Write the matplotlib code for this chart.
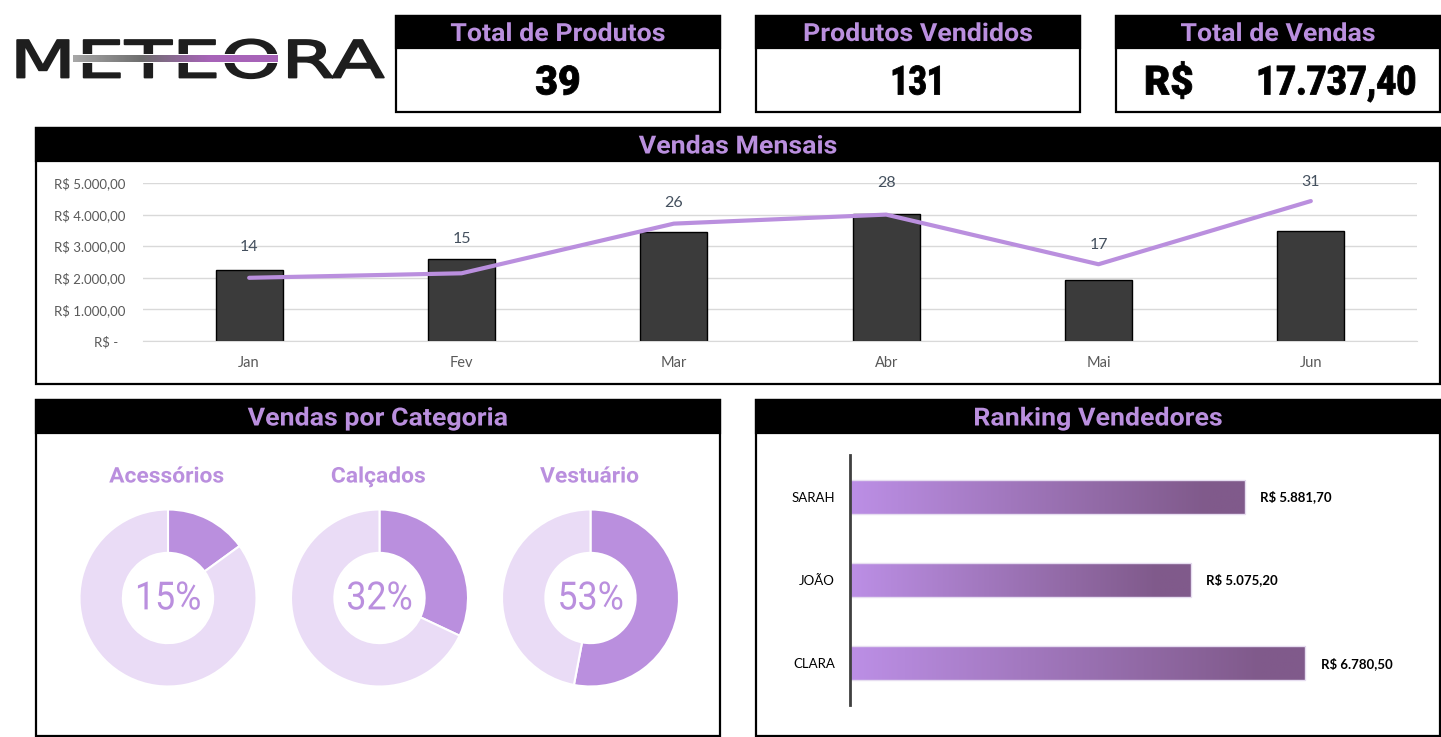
import numpy as np
import matplotlib
matplotlib.use("Agg")
import matplotlib.pyplot as plt
from matplotlib.colors import LinearSegmentedColormap
from matplotlib.patches import Rectangle
from matplotlib.patheffects import AbstractPathEffect
from matplotlib.transforms import Affine2D

plt.rcParams["font.family"] = ["Lato", "DejaVu Sans"]

# dados
kpi_titulos = ["Total de Produtos", "Produtos Vendidos", "Total de Vendas"]
meses = ["Jan", "Fev", "Mar", "Abr", "Mai", "Jun"]
vendas_mes = [2250, 2600, 3440, 4030, 1930, 3480]
qtd_mes = [14, 15, 26, 28, 17, 31]
y_ticks = [0, 1000, 2000, 3000, 4000, 5000]
y_labels = ["R$ -  ", "R$ 1.000,00", "R$ 2.000,00", "R$ 3.000,00", "R$ 4.000,00", "R$ 5.000,00"]
categorias = ["Acessórios", "Calçados", "Vestuário"]
cat_pct = [15, 32, 53]
vendedores = ["SARAH", "JOÃO", "CLARA"]
vendedor_total = [5881.70, 5075.20, 6780.50]
vendedor_labels = ["R$ 5.881,70", "R$ 5.075,20", "R$ 6.780,50"]

ROXO = "#BA8FDE"
ROXO_CLARO = "#EADCF6"
W, H = 1441, 737
TITLE_FONT = "Roboto"


class StretchX(AbstractPathEffect):
    """alarga/estreita o texto na horizontal, em torno do centro dele; stroke engrossa o traço"""
    def __init__(self, sx, stroke=0):
        super().__init__()
        self.sx = sx
        self.stroke = stroke

    def draw_path(self, renderer, gc, tpath, affine, rgbFace=None):
        ext = tpath.get_extents()
        cx = (ext.x0 + ext.x1) / 2
        t = Affine2D().translate(-cx, 0).scale(self.sx, 1).translate(cx, 0)
        gc0 = renderer.new_gc()
        gc0.copy_properties(gc)
        if self.stroke:
            gc0.set_linewidth(self.stroke)
            gc0.set_foreground(rgbFace)
        renderer.draw_path(gc0, tpath.transformed(t), affine, rgbFace)
        gc0.restore()


def px_axes(x0, y0, x1, y1, **kw):
    return fig.add_axes([x0 / W, 1 - y1 / H, (x1 - x0) / W, (y1 - y0) / H], **kw)


def painel(x0, y0, x1, y1, y_head, titulo):
    bg.add_patch(Rectangle((x0, y0), x1 - x0, y1 - y0, fc="white", ec="black", lw=1.6))
    bg.add_patch(Rectangle((x0, y0), x1 - x0, y_head - y0, fc="black", ec="black", lw=1.6))
    bg.text((x0 + x1) / 2, (y0 + y_head) / 2 + 2, titulo, color=ROXO, fontsize=18,
            fontweight="bold", family=TITLE_FONT, ha="center", va="center",
            path_effects=[StretchX(1.07)])


fig = plt.figure(figsize=(W / 100, H / 100), dpi=100, facecolor="white")
bg = px_axes(0, 0, W, H)
bg.set_xlim(0, W)
bg.set_ylim(H, 0)
bg.axis("off")

#########################################################################################
# logo
#########################################################################################
bg.text(198, 77.5, "METEORA", fontsize=37, color="#1E1E1E", family="DejaVu Sans",
        ha="center", va="baseline", path_effects=[StretchX(1.5, stroke=1.3)])
bg.add_patch(Rectangle((71, 54), 209, 9, fc="white", ec="none", zorder=3))
cmap_logo = LinearSegmentedColormap.from_list("logo", ["#A8A8A8", "#6E6E6E", "#A763B8", "#A763B8"])
bg.imshow(np.linspace(0, 1, 256).reshape(1, -1), cmap=cmap_logo, extent=(73, 278, 62, 55),
          aspect="auto", zorder=4)
bg.set_xlim(0, W)
bg.set_ylim(H, 0)

#########################################################################################
# KPIs
#########################################################################################
painel(396, 16, 720, 112, 48, kpi_titulos[0])
painel(756, 16, 1080, 112, 48, kpi_titulos[1])
painel(1116, 16, 1440, 112, 48, kpi_titulos[2])
kpi_style = dict(fontsize=29, fontweight=900, family=TITLE_FONT, color="black", va="center")
bg.text(558, 83, "39", ha="center", path_effects=[StretchX(0.97, stroke=0.6)], **kpi_style)
bg.text(918, 83, "131", ha="center", path_effects=[StretchX(0.78, stroke=0.6)], **kpi_style)
bg.text(1144, 83, "R$", ha="left", path_effects=[StretchX(1, stroke=0.6)], **kpi_style)
bg.text(1336, 83, "17.737,40", ha="center", path_effects=[StretchX(0.86, stroke=0.6)], **kpi_style)

#########################################################################################
# vendas mensais
#########################################################################################
painel(36, 128, 1440, 384, 161, "Vendas Mensais")
ax = px_axes(143, 183, 1417, 341)
ax.patch.set_alpha(0)
x = np.arange(len(meses))
ax.bar(x, vendas_mes, width=0.316, color="#3B3B3B", edgecolor="black", lw=1, zorder=2)
ax.set_xlim(-0.5, 5.5)
ax.set_ylim(0, 5000)
ax.set_yticks(y_ticks, y_labels)
ax.set_xticks(x, meses)
ax.grid(axis="y", color="#D9D9D9", lw=1, zorder=0)
ax.set_axisbelow(True)
for s in ["top", "right", "left"]:
    ax.spines[s].set_visible(False)
ax.spines["bottom"].set_color("#D9D9D9")
ax.tick_params(length=0, labelsize=9.5, labelcolor="#595959")
ax.tick_params(axis="y", pad=13)
ax.tick_params(axis="x", pad=10.5, labelsize=10.5)

ax2 = ax.twinx()
ax2.plot(x, qtd_mes, color=ROXO, lw=3, solid_capstyle="round", zorder=3)
ax2.set_ylim(0, 35)
ax2.axis("off")
label_off = [31, 34, 20.5, 31.5, 19.5, 19.5]
for xi, q, off in zip(x, qtd_mes, label_off):
    ax2.annotate(str(q), (xi, q), xytext=(0, off * 0.72), textcoords="offset points",
                 ha="center", va="center", fontsize=11.5, color="#44505E", annotation_clip=False)

#########################################################################################
# vendas por categoria
#########################################################################################
painel(36, 400, 720, 736, 433, "Vendas por Categoria")
centros = [168, 379.5, 590.5]
for cx, nome, pct in zip(centros, categorias, cat_pct):
    a = px_axes(cx - 88.5, 509.5, cx + 88.5, 686.5)
    a.pie([pct, 100 - pct], colors=[ROXO, ROXO_CLARO], startangle=90, counterclock=False,
          radius=1, wedgeprops=dict(width=0.49, edgecolor="white", linewidth=1.5))
    a.set_xlim(-1, 1)
    a.set_ylim(-1, 1)
    a.text(0, -0.01, f"{pct}%", ha="center", va="center", fontsize=28, color=ROXO,
           family=TITLE_FONT, path_effects=[StretchX(0.92)])
    bg.text(cx - 1, 476.5, nome, ha="center", va="center", fontsize=15.5, fontweight="bold",
            color=ROXO, family=TITLE_FONT, path_effects=[StretchX(1.06)])

#########################################################################################
# ranking
#########################################################################################
painel(756, 400, 1440, 736, 433, "Ranking Vendedores")
r = px_axes(849.5, 455, 1387.5, 705)
r.patch.set_alpha(0)
cmap_bar = LinearSegmentedColormap.from_list("barra", [(0, "#BC8FE6"), (0.9, "#805A8B"), (1, "#805A8B")])
bars = r.barh(vendedores, vendedor_total, height=0.41, color="none", edgecolor="#E6DDF0", lw=1, zorder=3)
for b in bars:
    im = r.imshow(np.linspace(0, 1, 256).reshape(1, -1), cmap=cmap_bar, aspect="auto", zorder=2,
                  extent=(0, b.get_width(), b.get_y() + b.get_height(), b.get_y()))
    im.set_clip_path(b)
r.set_xlim(0, 8000)
r.set_ylim(2.5, -0.5)
for s in ["top", "right", "bottom"]:
    r.spines[s].set_visible(False)
r.spines["left"].set_color("#404040")
r.spines["left"].set_linewidth(2)
r.spines["left"].set_zorder(5)
r.set_xticks([])
r.tick_params(axis="y", length=0, labelsize=9.5, labelcolor="black", pad=10.5)
for i, (v, lab) in enumerate(zip(vendedor_total, vendedor_labels)):
    r.annotate(lab, (v, i), xytext=(11, 0), textcoords="offset points", va="center", ha="left",
               fontsize=9.5, fontweight="bold", color="black")

fig.savefig("out.png", dpi=100)
